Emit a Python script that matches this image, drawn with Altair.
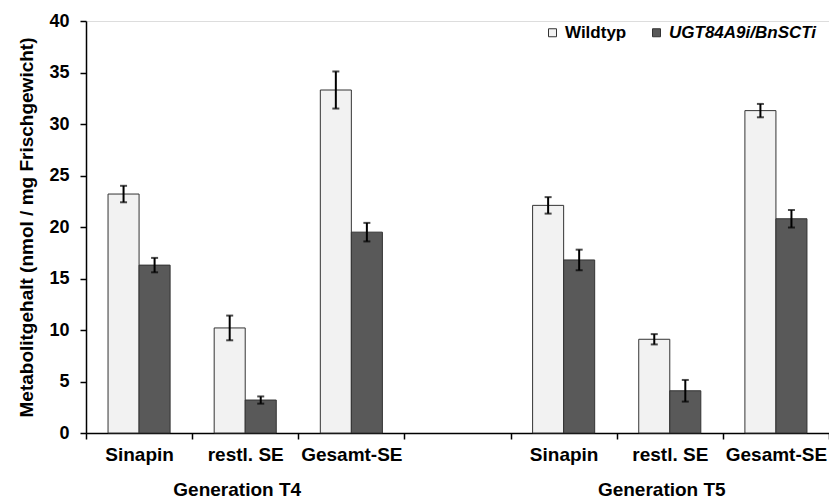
import altair as alt
import pandas as pd

# Metabolite contents (nmol / mg fresh weight), mean and error per genotype
generations = ["Generation T4", "Generation T5"]
compounds = ["Sinapin", "restl. SE", "Gesamt-SE"]
series = ["Wildtyp", "UGT84A9i/BnSCTi"]

wt_mean = [23.2, 10.2, 33.3, 22.1, 9.1, 31.3]
wt_err = [0.8, 1.2, 1.8, 0.8, 0.5, 0.65]
tg_mean = [16.3, 3.2, 19.5, 16.8, 4.1, 20.8]
tg_err = [0.7, 0.35, 0.9, 1.0, 1.05, 0.85]

y_ticks = [0, 5, 10, 15, 20, 25, 30, 35, 40]

FONT = "Liberation Sans"
W, H = 743, 412

# x categories: three compounds per generation, with an empty slot between
gen_keys = ["T4", "T5"]
domain = [f"T4|{c}" for c in compounds] + ["gap"] + [f"T5|{c}" for c in compounds]

rows = []
for gi, g in enumerate(gen_keys):
    for ci, c in enumerate(compounds):
        i = gi * 3 + ci
        for s, m, e in ((series[0], wt_mean[i], wt_err[i]), (series[1], tg_mean[i], tg_err[i])):
            rows.append({"cat": f"{g}|{c}", "series": s, "value": m,
                         "lo": m - e, "hi": m + e})
df = pd.DataFrame(rows)

groups = pd.DataFrame({"cat": [f"T4|{compounds[1]}", f"T5|{compounds[1]}"],
                       "label": generations})

x_enc = alt.X("cat:N", scale=alt.Scale(domain=domain, paddingInner=0, paddingOuter=0),
              sort=domain,
              axis=alt.Axis(title=None, labelExpr="indexof(datum.label,'|')>=0 ? split(datum.label,'|')[1] : ''",
                            labelAngle=0, tickBand="extent", tickSize=6, tickWidth=1.5,
                            tickColor="black", domainColor="black", domainWidth=1.5,
                            labelFont=FONT, labelFontSize=19, labelFontWeight="bold",
                            labelColor="black", labelPadding=6, labelOverlap=False,
                            labelBound=False))
xoff = alt.XOffset("series:N", sort=series,
                   scale=alt.Scale(domain=series, paddingInner=0, paddingOuter=0.71))
y_scale = alt.Scale(domain=[0, 40], nice=False)

bars = alt.Chart(df).mark_bar(stroke="#333333", strokeWidth=1).encode(
    x=x_enc,
    xOffset=xoff,
    y=alt.Y("value:Q", scale=y_scale,
            axis=alt.Axis(title="Metabolitgehalt (nmol / mg Frischgewicht)", values=y_ticks,
                          grid=False, tickSize=6, tickWidth=1.5, tickColor="black",
                          domainColor="black", domainWidth=1.5,
                          labelFont=FONT, labelFontSize=18, labelFontWeight="bold",
                          labelColor="black", labelPadding=11,
                          titleFont=FONT, titleFontSize=19, titleFontWeight="bold",
                          titleColor="black", titlePadding=12)),
    fill=alt.Fill("series:N", scale=alt.Scale(domain=series, range=["#f2f2f2", "#595959"]),
                  legend=alt.Legend(title=None, orient="none", direction="horizontal",
                                    legendX=458, legendY=3, padding=0,
                                    symbolType="square", symbolSize=64,
                                    symbolStrokeColor="#333333", symbolStrokeWidth=1,
                                    labelFont=FONT, labelFontSize=17, labelFontWeight="bold",
                                    labelColor="black", labelOffset=4, columnPadding=21,
                                    labelLimit=300,
                                    labelFontStyle={"expr": "datum.label === 'UGT84A9i/BnSCTi' ? 'italic' : 'normal'"})),
)

err = alt.Chart(df).mark_rule(color="black", strokeWidth=2).encode(
    x=alt.X("cat:N", sort=domain), xOffset=xoff,
    y=alt.Y("lo:Q", scale=y_scale), y2="hi:Q")

caps_lo = alt.Chart(df).mark_tick(color="black", thickness=2, size=7).encode(
    x=alt.X("cat:N", sort=domain), xOffset=xoff, y=alt.Y("lo:Q", scale=y_scale))
caps_hi = alt.Chart(df).mark_tick(color="black", thickness=2, size=7).encode(
    x=alt.X("cat:N", sort=domain), xOffset=xoff, y=alt.Y("hi:Q", scale=y_scale))

group_text = alt.Chart(groups).mark_text(font=FONT, fontSize=19, fontWeight="bold",
                                         color="black", baseline="middle", dx=-8).encode(
    x=alt.X("cat:N", sort=domain), y=alt.value(H + 57), text="label:N")

chart = alt.layer(bars, err, caps_lo, caps_hi, group_text).properties(
    width=W, height=H,
    autosize=alt.AutoSizeParams(type="none"),
    padding={"left": 86, "top": 21, "right": 0, "bottom": 66},
).configure_view(stroke=None).configure(background="white")

chart.save("out.html", embed_options={"renderer": "svg", "actions": False})
